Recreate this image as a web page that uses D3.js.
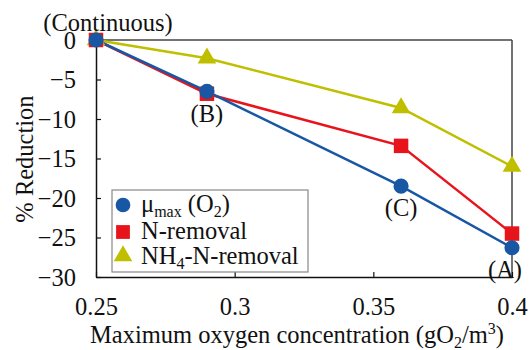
<!DOCTYPE html>
<html>
<head>
<meta charset="utf-8">
<script src="https://cdn.jsdelivr.net/npm/d3@7"></script>
<style>
  html, body { margin: 0; padding: 0; background: #fff; }
  svg { display: block; }
  svg text { font-family: "Liberation Serif", "Times New Roman", Times, serif; }
</style>
</head>
<body>
<svg id="chart" width="532" height="350"></svg>
<script>
// Data
const oxygen = [0.25, 0.29, 0.36, 0.40];
const muMax = [0, -6.5, -18.5, -26.3];
const nRemoval = [0, -6.8, -13.4, -24.5];
const nh4Removal = [0, -2.3, -8.6, -16.0];
const xTicks = [0.25, 0.3, 0.35, 0.4];
const yTicks = [0, -5, -10, -15, -20, -25, -30];
const pointLabels = ["(Continuous)", "(B)", "(C)", "(A)"];

const colors = { mu: "#1857a4", n: "#e8141c", nh4: "#bfbf00" };
const fs = "24.5px";
const subFs = "16px";

const svg = d3.select("#chart")
    .attr("font-size", fs)
    .attr("fill", "#111");

const x = d3.scaleLinear().domain([0.25, 0.4]).range([96, 512]);
const y = d3.scaleLinear().domain([-30, 0]).range([277, 40]);

// Frame (top and right in grey)
svg.append("line")
    .attr("x1", x(0.25)).attr("x2", x(0.4))
    .attr("y1", y(0)).attr("y2", y(0))
    .attr("stroke", "#444").attr("stroke-width", 1.5);
svg.append("line")
    .attr("x1", x(0.4)).attr("x2", x(0.4))
    .attr("y1", y(0)).attr("y2", y(-30))
    .attr("stroke", "#444").attr("stroke-width", 1.5);

// X axis, ticks pointing inward
const xAxis = svg.append("g")
    .attr("transform", `translate(0, ${y(-30)})`)
    .call(d3.axisBottom(x).tickValues(xTicks).tickSizeInner(-5).tickSizeOuter(0)
        .tickFormat(d => String(+d.toFixed(2))));
xAxis.attr("font-family", null);
xAxis.select(".domain").attr("stroke", "#111").attr("stroke-width", 1.5);
xAxis.selectAll(".tick line").attr("stroke", "#111").attr("stroke-width", 1.2);
xAxis.selectAll(".tick text")
    .attr("y", 38).attr("dy", null)
    .attr("font-size", fs).attr("fill", "#111");

// Y axis, ticks pointing inward
const yAxis = svg.append("g")
    .attr("transform", `translate(${x(0.25)}, 0)`)
    .call(d3.axisLeft(y).tickValues(yTicks).tickSizeInner(-5).tickSizeOuter(0));
yAxis.attr("font-family", null);
yAxis.select(".domain").attr("stroke", "#111").attr("stroke-width", 1.5);
yAxis.selectAll(".tick line").attr("stroke", "#111").attr("stroke-width", 1.2);
yAxis.selectAll(".tick text")
    .attr("x", -20).attr("dy", "0.33em")
    .attr("font-size", fs).attr("fill", "#111");

// Axis titles
const xTitle = svg.append("text")
    .attr("x", 297).attr("y", 343)
    .attr("text-anchor", "middle");
xTitle.append("tspan").text("Maximum oxygen concentration (gO");
xTitle.append("tspan").attr("font-size", subFs).attr("dy", 5).text("2");
xTitle.append("tspan").attr("dy", -5).text("/m");
xTitle.append("tspan").attr("font-size", subFs).attr("dy", -9).text("3");
xTitle.append("tspan").attr("dy", 9).text(")");

svg.append("text")
    .attr("transform", "translate(33, 159) rotate(-90)")
    .attr("text-anchor", "middle")
    .text("% Reduction");

// Series
const series = [
    { key: "nh4", values: nh4Removal, shape: d3.symbolTriangle, size: 150 },
    { key: "n", values: nRemoval, shape: d3.symbolSquare, size: 210 },
    { key: "mu", values: muMax, shape: d3.symbolCircle, size: 180 }
];

const line = d3.line().x((d, i) => x(oxygen[i])).y(d => y(d));

series.forEach(s => {
    svg.append("path")
        .datum(s.values)
        .attr("fill", "none")
        .attr("stroke", colors[s.key])
        .attr("stroke-width", 2.5)
        .attr("d", line);
});
series.forEach(s => {
    svg.append("g").selectAll("path")
        .data(s.values)
        .join("path")
        .attr("transform", (d, i) => `translate(${x(oxygen[i])}, ${y(d)})`)
        .attr("d", d3.symbol().type(s.shape).size(s.size))
        .attr("fill", colors[s.key]);
});

// Point annotations
const labelPos = [
    { x: x(0.25) + 12, y: 31 },
    { x: x(oxygen[1]), y: 122 },
    { x: x(oxygen[2]), y: 216 },
    { x: x(oxygen[3]) - 7, y: 278 }
];
svg.append("g").selectAll("text")
    .data(pointLabels)
    .join("text")
    .attr("x", (d, i) => labelPos[i].x)
    .attr("y", (d, i) => labelPos[i].y)
    .attr("text-anchor", "middle")
    .text(d => d);

// Legend
const legend = svg.append("g");
legend.append("rect")
    .attr("x", 112).attr("y", 190)
    .attr("width", 196).attr("height", 82)
    .attr("fill", "#fff")
    .attr("stroke", "#888").attr("stroke-width", 1.2);

const legendRows = [
    { key: "mu", shape: d3.symbolCircle, size: 170, cy: 205, ty: 212 },
    { key: "n", shape: d3.symbolSquare, size: 190, cy: 232, ty: 239 },
    { key: "nh4", shape: d3.symbolTriangle, size: 150, cy: 256, ty: 264 }
];
legendRows.forEach(r => {
    legend.append("path")
        .attr("transform", `translate(123, ${r.cy})`)
        .attr("d", d3.symbol().type(r.shape).size(r.size))
        .attr("fill", colors[r.key]);
});

const t1 = legend.append("text").attr("x", 141).attr("y", legendRows[0].ty);
t1.append("tspan").text("\u03bc");
t1.append("tspan").attr("font-size", subFs).attr("dy", 5).text("max");
t1.append("tspan").attr("dy", -5).text(" (O");
t1.append("tspan").attr("font-size", subFs).attr("dy", 5).text("2");
t1.append("tspan").attr("dy", -5).text(")");

legend.append("text").attr("x", 141).attr("y", legendRows[1].ty).text("N-removal");

const t3 = legend.append("text").attr("x", 141).attr("y", legendRows[2].ty);
t3.append("tspan").text("NH");
t3.append("tspan").attr("font-size", subFs).attr("dy", 5).text("4");
t3.append("tspan").attr("dy", -5).text("-N-removal");
</script>
</body>
</html>
